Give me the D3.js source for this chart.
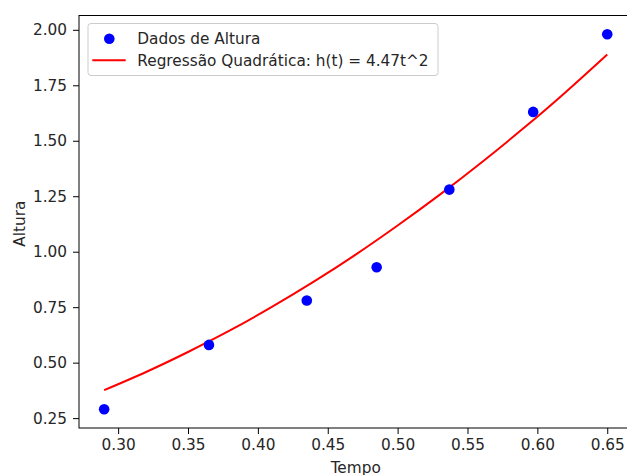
<!DOCTYPE html>
<html>
<head>
<meta charset="utf-8">
<script src="https://cdn.jsdelivr.net/npm/d3@7"></script>
<style>
  html, body { margin: 0; padding: 0; background: #fff; overflow: hidden; }
  svg { display: block; font-family: "DejaVu Sans", sans-serif; }
</style>
</head>
<body>
<svg id="chart" width="627" height="475"></svg>
<script>
// --- Data ---
var tempo  = [0.29, 0.365, 0.435, 0.485, 0.537, 0.597, 0.65];
var altura = [0.29, 0.58, 0.78, 0.93, 1.28, 1.63, 1.98];

// fitted curve, sampled along t
var curveT = [0.29, 0.32, 0.35, 0.38, 0.41, 0.44, 0.47, 0.50, 0.53, 0.56, 0.59, 0.62, 0.65];
var curveH = [0.376, 0.458, 0.548, 0.645, 0.751, 0.865, 0.987, 1.118, 1.256, 1.402, 1.556, 1.718, 1.889];

var xTicks = [0.30, 0.35, 0.40, 0.45, 0.50, 0.55, 0.60, 0.65];
var yTicks = [0.25, 0.50, 0.75, 1.00, 1.25, 1.50, 1.75, 2.00];

var legendLabels = ['Dados de Altura', 'Regressão Quadrática: h(t) = 4.47t^2'];

// --- Layout ---
var LEFT = 79, RIGHT = 632.4, TOP = 15.5, BOTTOM = 428;
var FONT = 15.3;

var svg = d3.select('#chart');

var x = d3.scaleLinear().domain([0.272, 0.668]).range([LEFT, RIGHT]);
var y = d3.scaleLinear().domain([0.2055, 2.0645]).range([BOTTOM, TOP]);

// axes
var xAxis = d3.axisBottom(x).tickValues(xTicks).tickFormat(d3.format('.2f')).tickSizeOuter(0).tickSize(6).tickPadding(5);
var yAxis = d3.axisLeft(y).tickValues(yTicks).tickFormat(d3.format('.2f')).tickSizeOuter(0).tickSize(6).tickPadding(6);

var gx = svg.append('g').attr('transform', 'translate(0,' + BOTTOM + ')').call(xAxis);
var gy = svg.append('g').attr('transform', 'translate(' + LEFT + ',0)').call(yAxis);

[gx, gy].forEach(function (g) {
  g.selectAll('text').attr('font-size', FONT).attr('fill', '#262626').attr('font-family', '"DejaVu Sans", sans-serif');
  g.selectAll('line').attr('stroke', '#000').attr('stroke-width', 1);
  g.select('.domain').remove();
});

// frame (right side is cut off by the picture edge)
svg.append('rect')
  .attr('x', LEFT).attr('y', TOP)
  .attr('width', RIGHT - LEFT).attr('height', BOTTOM - TOP)
  .attr('fill', 'none').attr('stroke', '#000').attr('stroke-width', 1);

// axis labels
svg.append('text')
  .attr('x', (LEFT + RIGHT) / 2).attr('y', 473)
  .attr('text-anchor', 'middle').attr('font-size', FONT).attr('fill', '#262626')
  .text('Tempo');

svg.append('text')
  .attr('transform', 'translate(25,' + ((TOP + BOTTOM) / 2 + 2) + ') rotate(-90)')
  .attr('text-anchor', 'middle').attr('font-size', FONT).attr('fill', '#262626')
  .text('Altura');

// regression curve
var curvePts = curveT.map(function (t, i) { return [t, curveH[i]]; });
svg.append('path')
  .datum(curvePts)
  .attr('fill', 'none').attr('stroke', '#ff0000').attr('stroke-width', 2)
  .attr('d', d3.line()
    .x(function (d) { return x(d[0]); })
    .y(function (d) { return y(d[1]); })
    .curve(d3.curveNatural));

// data points
svg.append('g').selectAll('circle')
  .data(tempo.map(function (t, i) { return [t, altura[i]]; }))
  .enter().append('circle')
  .attr('cx', function (d) { return x(d[0]); })
  .attr('cy', function (d) { return y(d[1]); })
  .attr('r', 5.3)
  .attr('fill', '#0000ff');

// legend
var lg = svg.append('g');
lg.append('rect')
  .attr('x', 88).attr('y', 23.5).attr('width', 350).attr('height', 52).attr('rx', 3)
  .attr('fill', '#fff').attr('fill-opacity', 0.8)
  .attr('stroke', '#cccccc').attr('stroke-width', 1);
lg.append('circle').attr('cx', 109.3).attr('cy', 38.7).attr('r', 5.3).attr('fill', '#0000ff');
lg.append('line').attr('x1', 92.3).attr('x2', 125.7).attr('y1', 60.3).attr('y2', 60.3)
  .attr('stroke', '#ff0000').attr('stroke-width', 2);
legendLabels.forEach(function (label, i) {
  lg.append('text')
    .attr('x', 137.3).attr('y', 38.7 + i * 21.6)
    .attr('dy', '0.35em')
    .attr('font-size', FONT).attr('fill', '#262626')
    .text(label);
});
</script>
</body>
</html>
